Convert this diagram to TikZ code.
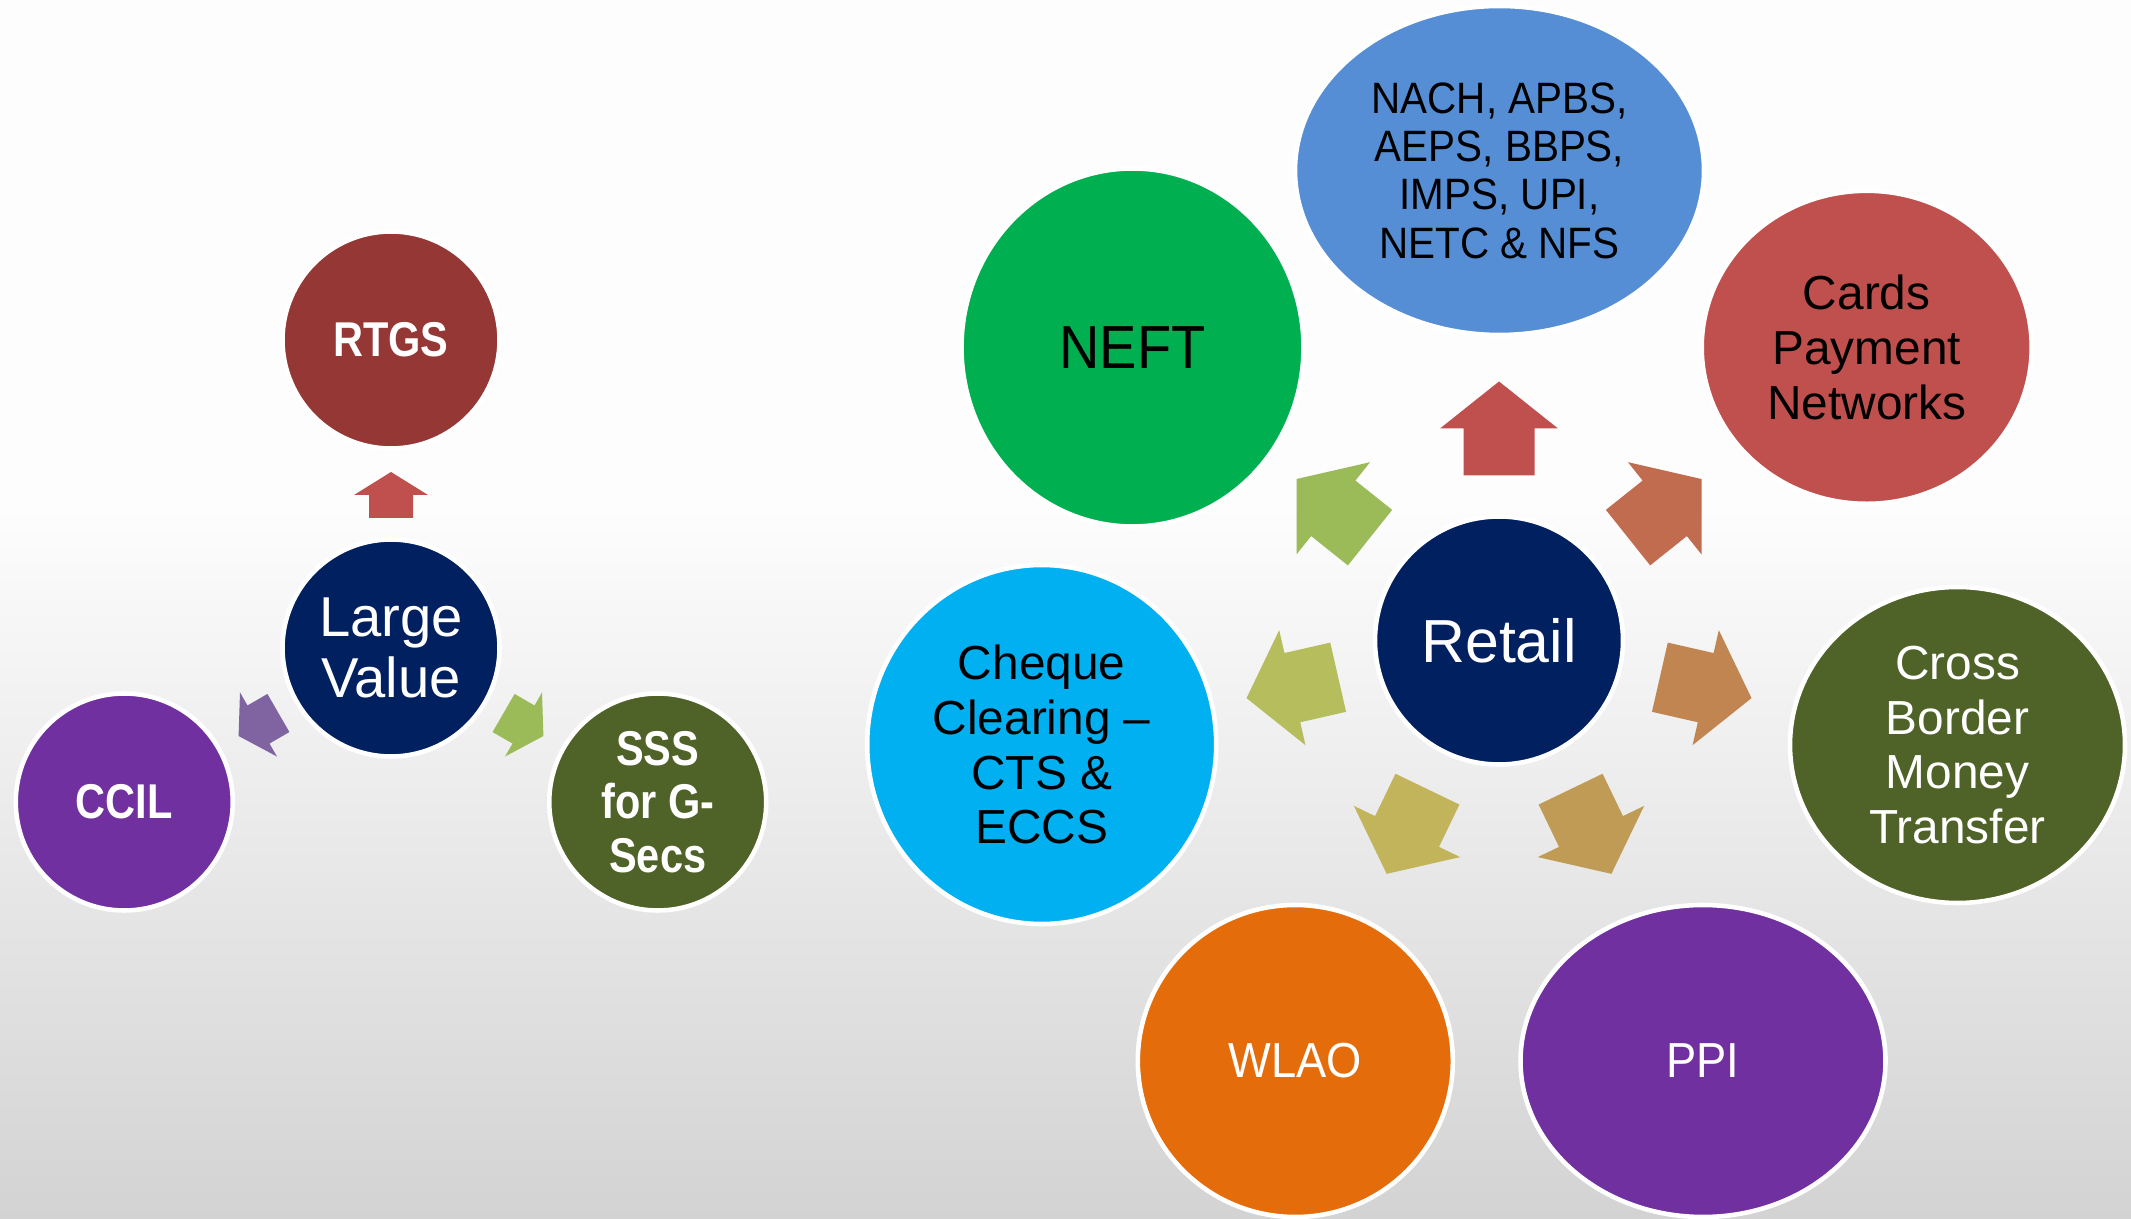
\documentclass[tikz,border=0pt]{standalone}
\usepackage{fontspec}
\setmainfont{Liberation Sans}
\newfontfamily\narrowfont{Liberation Sans}[FakeStretch=0.85]
\newfontfamily\capsfont{Liberation Sans}[FakeStretch=0.92]
\usetikzlibrary{shapes.geometric}

\definecolor{bgtop}{HTML}{FDFDFD}
\definecolor{bgbottom}{HTML}{D3D3D3}
\definecolor{navy}{HTML}{00205F}
\definecolor{rtgsred}{HTML}{953735}
\definecolor{ccilpurple}{HTML}{7030A0}
\definecolor{olive}{HTML}{4F6228}
\definecolor{neftgreen}{HTML}{00B050}
\definecolor{nachblue}{HTML}{558ED5}
\definecolor{cardsred}{HTML}{C0504D}
\definecolor{wlaoorange}{HTML}{E46C0A}
\definecolor{chequeblue}{HTML}{00B0F0}
% block arrow colours
\definecolor{arrred}{HTML}{C0504D}
\definecolor{arrpurple}{HTML}{8064A2}
\definecolor{arrgreen}{HTML}{9BBB59}
\definecolor{spokeA}{HTML}{C0504D}
\definecolor{spokeB}{HTML}{C16B4F}
\definecolor{spokeC}{HTML}{C18552}
\definecolor{spokeD}{HTML}{C09B55}
\definecolor{spokeE}{HTML}{C1B45A}
\definecolor{spokeF}{HTML}{B5BD5C}
\definecolor{spokeG}{HTML}{9BBB59}

\begin{document}
\begin{tikzpicture}[
	bubble/.style={draw=white, line width=1.3pt, inner sep=0pt, align=center},
	oval/.style 2 args={bubble, ellipse, minimum width=#1cm, minimum height=#2cm},
	disc/.style={bubble, circle, minimum size=#1cm},
	bigtxt/.style={font=\fontsize{17.3}{20}\selectfont},
	midtxt/.style={font=\fontsize{13.6}{15.6}\selectfont},
	smalltxt/.style={font=\capsfont\fontsize{12.5}{13.75}\selectfont},
	boldtxt/.style={text=white, font=\narrowfont\bfseries\fontsize{13.9}{15.2}\selectfont},
]
	\useasboundingbox (0,0) rectangle (21.31,12.18);
	\fill[bgtop] (0,0) rectangle (21.31,12.18);
	\shade[top color=bgtop, bottom color=bgbottom] (0,0) rectangle (21.31,7.13);

	% large value systems
	\node[disc=2.17, fill=navy, text=white, font=\fontsize{16}{17.6}\selectfont] (large) at (3.91,5.70) {Large\\Value};
	\node[disc=2.17, fill=rtgsred, boldtxt] (rtgs) at ([shift={(90:3.08)}]large.center) {RTGS};
	\node[disc=2.17, fill=ccilpurple, boldtxt] (ccil) at ([shift={(210:3.08)}]large.center) {CCIL};
	\node[disc=2.17, fill=olive, boldtxt] (sss) at ([shift={(330:3.08)}]large.center) {SSS\\for G-\\Secs};
	\foreach \ang/\col in {90/arrred, 210/arrpurple, 330/arrgreen}
		\fill[\col, shift={(large.center)}, rotate=\ang] (1.30,-0.22) -- (1.53,-0.22) -- (1.53,-0.37)
			-- (1.76,0) -- (1.53,0.37) -- (1.53,0.22) -- (1.30,0.22) -- cycle;

	% retail systems
	\node[disc=2.48, fill=navy, text=white, bigtxt] (retail) at (14.99,5.775) {Retail};
	\node[oval={4.09}{3.29}, fill=nachblue, smalltxt] (nach) at (14.995,10.475) {NACH, APBS,\\AEPS, BBPS,\\IMPS, UPI,\\NETC \& NFS};
	\node[oval={3.30}{3.13}, fill=cardsred, midtxt] (cards) at (18.667,8.707) {Cards\\Payment\\Networks};
	\node[oval={3.35}{3.16}, fill=olive, text=white, midtxt] (cross) at (19.575,4.73) {Cross\\Border\\Money\\Transfer};
	\node[oval={3.65}{3.12}, fill=ccilpurple, text=white, font=\capsfont\fontsize{14}{16}\selectfont] (ppi) at (17.03,1.57) {PPI};
	\node[oval={3.15}{3.12}, fill=wlaoorange, text=white, font=\capsfont\fontsize{14}{16}\selectfont] (wlao) at (12.953,1.57) {WLAO};
	\node[oval={3.49}{3.59}, fill=chequeblue, midtxt] (cheque) at (10.417,4.735) {Cheque\\Clearing --\\CTS \&\\ECCS};
	\node[oval={3.42}{3.58}, fill=neftgreen, font=\capsfont\fontsize{17.3}{20}\selectfont] (neft) at (11.325,8.705) {NEFT};
	\foreach \k/\col in {0/spokeA, 1/spokeB, 2/spokeC, 3/spokeD, 4/spokeE, 5/spokeF, 6/spokeG}
		\fill[\col, shift={(retail.center)}, rotate={90-\k*360/7}] (1.65,-0.355) -- (2.12,-0.355) -- (2.12,-0.59)
			-- (2.59,0) -- (2.12,0.59) -- (2.12,0.355) -- (1.65,0.355) -- cycle;
\end{tikzpicture}
\end{document}
